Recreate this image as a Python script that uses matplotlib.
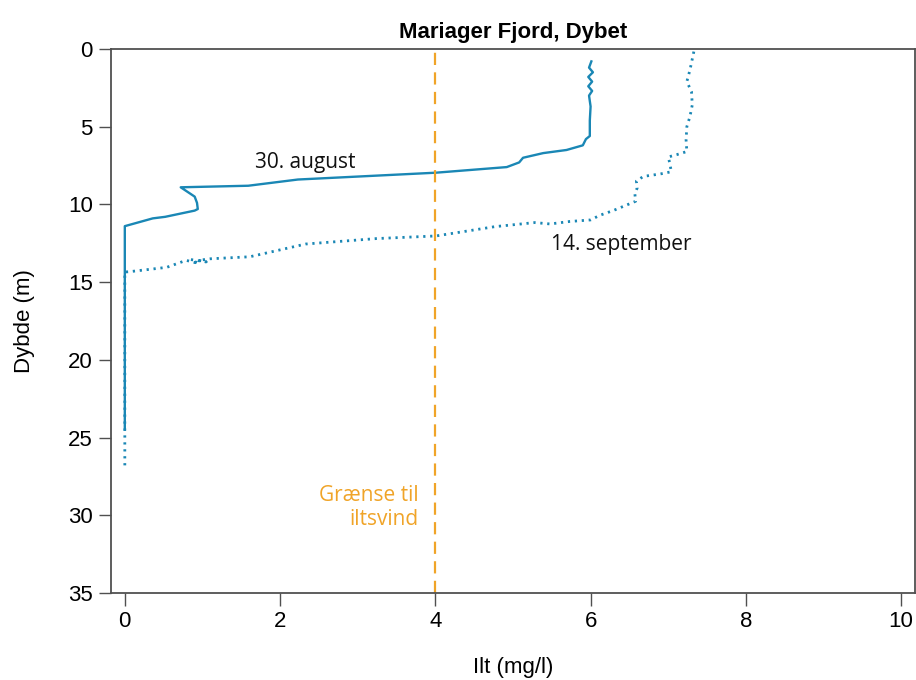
import matplotlib.pyplot as plt

# -------------------------------------------------------
# Oxygen profiles, Mariager Fjord
# -------------------------------------------------------
aug_oxygen = [6.01, 5.98, 6.03, 5.97, 6.02, 5.97, 6.02, 5.98, 6.00, 5.99, 5.99,
              5.94, 5.90, 5.69, 5.39, 5.13, 5.08, 4.92, 4.01, 2.23, 1.59, 0.72,
              0.90, 0.93, 0.94, 0.90, 0.52, 0.36, 0.0, 0.0]
aug_depth = [0.8, 1.2, 1.5, 1.8, 2.1, 2.4, 2.7, 3.0, 3.7, 4.6, 5.6,
             5.8, 6.2, 6.5, 6.7, 7.0, 7.3, 7.6, 7.96, 8.4, 8.8, 8.9,
             9.5, 9.9, 10.3, 10.4, 10.8, 10.9, 11.4, 24.5]

sep_oxygen = [7.33, 7.28, 7.24, 7.30, 7.31, 7.28, 7.24, 7.23, 7.24, 7.11, 7.00,
              7.02, 7.04, 6.90, 6.68, 6.59, 6.60, 6.57, 6.58, 6.46, 6.29, 6.12,
              6.00, 5.73, 5.48, 5.28, 4.77, 4.01, 3.24, 2.33, 1.61, 1.10, 0.95,
              1.05, 0.85, 0.95, 0.79, 0.54, 0.06, 0.0, 0.0]
sep_depth = [0.17, 1.35, 2.1, 2.75, 3.6, 4.35, 5.0, 5.85, 6.6, 6.8, 6.95,
             7.35, 7.9, 8.04, 8.2, 8.5, 8.95, 9.3, 9.8, 10.05, 10.4, 10.7,
             11.0, 11.1, 11.26, 11.17, 11.43, 12.03, 12.2, 12.55, 13.37, 13.5, 13.6,
             13.7, 13.55, 13.8, 13.6, 14.05, 14.33, 14.35, 26.8]

limit = 4
x_ticks = [0, 2, 4, 6, 8, 10]
y_ticks = [0, 5, 10, 15, 20, 25, 30, 35]

blue = "#1a87b5"
orange = "#f0a428"
spine_col = "#505050"

plt.rcParams["font.family"] = ["Liberation Sans", "DejaVu Sans"]

fig = plt.figure(figsize=(9.16, 6.8), dpi=100)
ax = fig.add_axes([0.121, 0.128, 0.878, 0.8])

ax.plot(aug_oxygen, aug_depth, color=blue, linewidth=1.7)
ax.plot(sep_oxygen, sep_depth, color=blue, linewidth=2.0,
        linestyle=(0, (0.8, 1.7)))
ax.axvline(limit, color=orange, linewidth=1.6, linestyle=(0, (5.5, 3.3)))

ax.text(2.32, 7.3, "30. august", family="Open Sans", fontsize=15,
        ha="center", va="center", color="#111111")
ax.text(6.4, 12.6, "14. september", family="Open Sans", fontsize=15,
        ha="center", va="center", color="#111111")
ax.text(3.78, 29.5, "Grænse til\niltsvind", family="Open Sans", fontsize=15,
        ha="right", va="center", color=orange, linespacing=1.15)

ax.set_xlim(-0.18, 10.18)
ax.set_ylim(35, 0)
ax.set_xticks(x_ticks)
ax.set_yticks(y_ticks)
ax.tick_params(labelsize=16, length=9, width=1, color=spine_col, pad=4)
for s in ax.spines.values():
    s.set_color(spine_col)
    s.set_linewidth(1.3)

ax.set_title("Mariager Fjord, Dybet", fontsize=16, fontweight="bold", pad=8)
ax.set_xlabel("Ilt (mg/l)", fontsize=16, labelpad=18)
ax.set_ylabel("Dybde (m)", fontsize=16, labelpad=24)

fig.savefig("out.png", dpi=100)
